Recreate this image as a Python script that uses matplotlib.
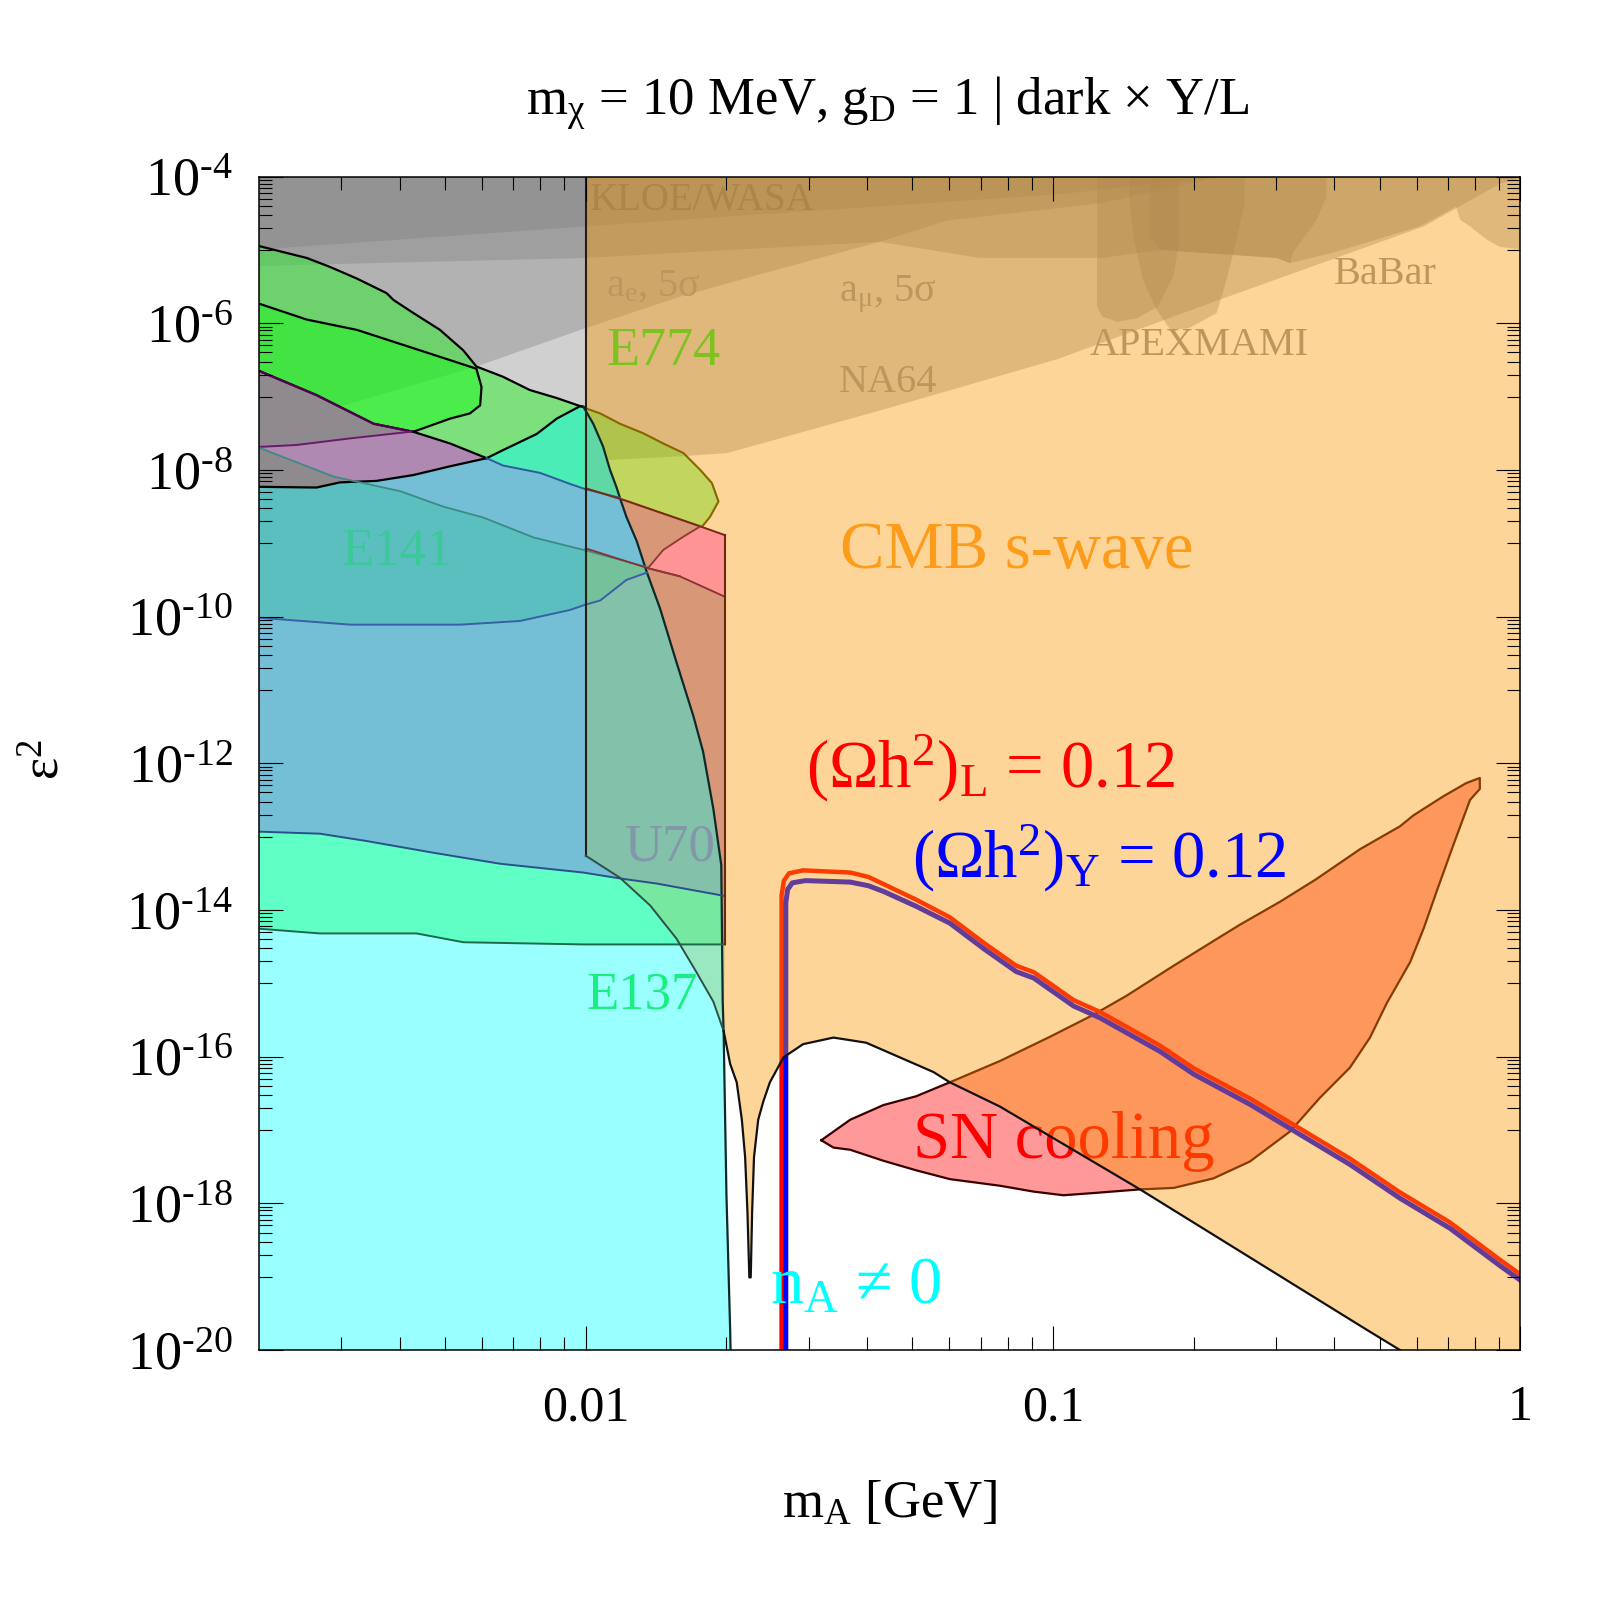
import numpy as np
import matplotlib.pyplot as plt
from matplotlib.ticker import FixedLocator, FuncFormatter, NullFormatter

plt.rcParams['font.family'] = ['Liberation Serif', 'DejaVu Serif']
plt.rcParams['mathtext.fontset'] = 'custom'
plt.rcParams['mathtext.rm'] = 'Liberation Serif'
plt.rcParams['mathtext.it'] = 'Liberation Serif:italic'
plt.rcParams['mathtext.bf'] = 'Liberation Serif:bold'

# all curves: log10(m_A / GeV), log10(eps^2)

# gray constraint bands (lower edges, closed to the top of the frame)
kloe_lx = [-2.71, -2.00, -1.683, -0.985, -0.642]
kloe_ly = [-5.00, -4.68, -4.54, -4.24, -4.00]
amu_lx = [-2.71, -2.00, -1.371, -1.157, -0.893, -0.771, -0.522, -0.493, -0.402,
          -0.216, -0.138, -0.129, -0.108, -0.072, -0.044, 0.01]
amu_ly = [-5.22, -5.11, -4.89, -5.11, -5.11, -5.00, -5.11, -5.18, -5.04,
          -4.68, -4.41, -4.59, -4.68, -4.86, -4.96, -5.00]
ae_lx = [-2.71, -2.234, -2.002, -1.799, -1.62, -1.371, -1.227, -0.893, -0.642]
ae_ly = [-7.48, -6.59, -6.07, -5.64, -5.32, -4.89, -4.60, -4.36, -4.00]
na64_lx = [-2.71, -2.212, -2.0, -1.786, -1.697, -1.354, -0.991, -0.644, -0.207, -0.044, 0.01]
na64_ly = [-8.27, -7.88, -7.88, -7.81, -7.77, -7.16, -6.49, -5.68, -4.68, -4.10, -4.0]
mami_lx = [-0.793, -0.793, -0.771, -0.522, -0.493, -0.487, -0.437, -0.415, -0.415]
mami_ly = [-3.9, -4.82, -5.00, -5.11, -5.18, -5.04, -4.60, -4.28, -3.9]
apex_lx = [-0.906, -0.906, -0.895, -0.862, -0.819, -0.775, -0.742, -0.731, -0.731]
apex_ly = [-3.9, -5.77, -5.91, -5.98, -5.93, -5.77, -5.35, -4.93, -3.9]
apex2_lx = [-0.838, -0.836, -0.828, -0.808, -0.778, -0.749, -0.710, -0.650, -0.629, -0.614, -0.590, -0.590]
apex2_ly = [-3.9, -4.36, -4.82, -5.41, -5.82, -6.09, -6.07, -5.86, -5.41, -5.04, -4.36, -3.9]

# green regions at small mass
l1_lx = [-2.71, -2.597, -2.548, -2.490, -2.426, -2.412, -2.369, -2.312, -2.262, -2.234,
         -2.177, -2.120, -2.062, -2.012, -2.005]
l1_ly = [-4.93, -5.11, -5.23, -5.39, -5.59, -5.68, -5.86, -6.09, -6.37, -6.59,
         -6.73, -6.91, -7.02, -7.13, -7.14]
lobe_lx = [-2.71, -2.597, -2.490, -2.369, -2.234, -2.223, -2.226, -2.248, -2.290, -2.369,
           -2.454, -2.576, -2.71]
lobe_ly = [-5.71, -5.95, -6.09, -6.34, -6.62, -6.87, -7.12, -7.23, -7.30, -7.48,
           -7.37, -6.98, -6.62]
mint_top_lx = [-2.212, -2.177, -2.105, -2.062, -2.012, -2.005]
mint_top_ly = [-7.84, -7.73, -7.51, -7.30, -7.13, -7.14]
low_lx = [-2.212, -2.290, -2.369]
low_ly = [-7.84, -7.64, -7.48]
up_lx = [-2.71, -2.576, -2.454, -2.369]
up_ly = [-6.62, -6.98, -7.37, -7.48]
lp_lx = [-2.71, -2.619, -2.504, -2.376, -2.369]
lp_ly = [-7.69, -7.66, -7.57, -7.48, -7.48]
e774_lx = [-2.0, -1.969, -1.927, -1.877, -1.834, -1.791, -1.755, -1.730, -1.716, -1.734,
           -1.752, -1.755, -1.919, -2.0]
e774_ly = [-7.16, -7.23, -7.37, -7.50, -7.64, -7.77, -8.00, -8.18, -8.43, -8.64,
           -8.78, -8.77, -8.41, -8.25]

# beam dump family
blk_lx = [-2.71, -2.576, -2.526, -2.448, -2.369, -2.290, -2.212]
blk_ly = [-8.23, -8.24, -8.17, -8.15, -8.07, -7.95, -7.84]
bl_lx = [-2.212, -2.177, -2.098, -2.034, -2.002, -1.927]
bl_ly = [-7.84, -7.94, -8.04, -8.19, -8.26, -8.38]
redtop_lx = [-2.0, -1.919, -1.755, -1.702]
redtop_ly = [-8.25, -8.41, -8.77, -8.89]
steep_lx = [-2.005, -1.984, -1.963, -1.948, -1.934, -1.927, -1.913, -1.891, -1.869, -1.841,
            -1.806, -1.770, -1.749, -1.727, -1.710, -1.707, -1.705, -1.699, -1.691, -1.690]
steep_ly = [-7.14, -7.37, -7.68, -8.00, -8.24, -8.38, -8.64, -8.97, -9.40, -9.89,
            -10.62, -11.35, -11.84, -12.62, -13.39, -15.24, -15.65, -17.87, -19.73, -20.05]
wb_lx = [-2.71, -2.569, -2.469, -2.326, -2.183, -2.005, -1.927, -1.848, -1.702]
wb_ly = [-12.93, -12.96, -13.06, -13.22, -13.37, -13.49, -13.57, -13.64, -13.81]
e137_lx = [-2.71, -2.569, -2.362, -2.262, -2.005, -1.702]
e137_ly = [-14.25, -14.32, -14.32, -14.44, -14.47, -14.47]
tl_lx = [-2.71, -2.540, -2.397, -2.305, -2.219, -2.112, -2.005, -1.866]
tl_ly = [-7.67, -8.09, -8.29, -8.50, -8.65, -8.92, -9.09, -9.33]
e10_lx = [-2.71, -2.503, -2.269, -2.141, -2.034, -2.002, -1.969, -1.913, -1.869]
e10_ly = [-10.01, -10.11, -10.11, -10.06, -9.91, -9.84, -9.78, -9.50, -9.40]
ut_lx = [-2.0, -1.867, -1.799, -1.702]
ut_ly = [-9.07, -9.34, -9.45, -9.73]
diag_lx = [-2.0, -1.927, -1.862, -1.806, -1.763, -1.727, -1.705]
diag_ly = [-13.26, -13.56, -13.94, -14.39, -14.85, -15.25, -15.65]
pink_lx = [-1.755, -1.702, -1.702, -1.799, -1.867, -1.834, -1.791]
pink_ly = [-8.77, -8.89, -9.73, -9.45, -9.34, -9.09, -8.91]
tri_lx = [-2.71, -2.540, -2.489, -2.526, -2.576, -2.71]
tri_ly = [-7.67, -8.09, -8.16, -8.17, -8.24, -8.23]

# CMB boundary (thermal relic curve)
rc_lx = [-1.705, -1.691, -1.677, -1.666, -1.659, -1.654, -1.650, -1.647, -1.644, -1.640,
         -1.631, -1.620, -1.606, -1.577, -1.535, -1.470, -1.400, -1.328, -1.256, -1.221,
         -1.114, -0.814, -0.330, -0.258]
rc_ly = [-15.65, -16.10, -16.35, -16.86, -17.37, -18.12, -19.01, -19.01, -18.12, -17.37,
         -16.86, -16.61, -16.35, -16.01, -15.83, -15.74, -15.81, -16.01, -16.21, -16.35,
         -16.68, -17.81, -19.72, -20.0]

# SN cooling
sn_lx = [-1.496, -1.434, -1.363, -1.293, -1.221, -1.114, -1.007, -0.914, -0.843, -0.742,
         -0.651, -0.600, -0.515, -0.437, -0.343, -0.258, -0.229, -0.165, -0.116, -0.087,
         -0.087, -0.108, -0.144, -0.179, -0.207, -0.236, -0.286, -0.322, -0.365, -0.429,
         -0.493, -0.579, -0.657, -0.742, -0.814, -0.914, -0.978, -1.042, -1.114, -1.221,
         -1.293, -1.363, -1.434, -1.470]
sn_ly = [-17.14, -16.86, -16.66, -16.54, -16.35, -16.06, -15.73, -15.43, -15.17, -14.76,
         -14.40, -14.20, -13.89, -13.58, -13.17, -12.86, -12.71, -12.45, -12.27, -12.20,
         -12.35, -12.50, -13.12, -13.74, -14.25, -14.71, -15.27, -15.74, -16.15, -16.56,
         -17.02, -17.43, -17.66, -17.79, -17.81, -17.86, -17.89, -17.84, -17.76, -17.67,
         -17.55, -17.42, -17.27, -17.24]

# (Omega h^2) = 0.12 contours
relic_lx = [-1.434, -1.395, -1.362, -1.293, -1.221, -1.148, -1.079, -1.041, -0.956, -0.900,
            -0.771, -0.699, -0.579, -0.472, -0.365, -0.258, -0.151, -0.044, 0.0]
lep_lx = [-1.581, -1.581, -1.576, -1.565, -1.535] + relic_lx
lep_ly = [-20.0, -13.80, -13.60, -13.50, -13.46, -13.49, -13.55, -13.65, -13.86, -14.10,
          -14.45, -14.76, -14.85, -15.23, -15.39, -15.85, -16.16, -16.57, -16.98, -17.39,
          -17.85, -18.26, -18.77, -18.97]
hyp_lx = [-1.572, -1.572, -1.568, -1.558, -1.530] + relic_lx
hyp_ly = [-20.0, -13.90, -13.72, -13.63, -13.60, -13.62, -13.67, -13.75, -13.95, -14.18,
          -14.53, -14.84, -14.93, -15.31, -15.47, -15.93, -16.24, -16.65, -17.06, -17.47,
          -17.93, -18.34, -18.85, -19.05]

fig = plt.figure(figsize=(16, 16), dpi=100)
ax = fig.add_axes([0.162, 0.15625, 0.7883, 0.7334])
ax.set_xscale('log')
ax.set_yscale('log')


def P(lx, ly):
    return 10.0 ** np.asarray(lx, float), 10.0 ** np.asarray(ly, float)


def fill(lx, ly, color, z, alpha=1.0, edge=True):
    x, y = P(lx, ly)
    if edge and alpha == 1.0:
        ax.fill(x, y, facecolor=color, edgecolor=color, lw=0.6, zorder=z)
    else:
        ax.fill(x, y, facecolor=color, alpha=alpha, lw=0, zorder=z)


def line(lx, ly, color, z=7, lw=1.6, alpha=1.0):
    x, y = P(lx, ly)
    ax.plot(x, y, color=color, lw=lw, zorder=z, alpha=alpha, solid_joinstyle='round')


def band(lx, ly):
    return lx + [lx[-1], lx[0]], ly + [-3.9, -3.9]


# gray bands
for blx, bly in [(kloe_lx, kloe_ly), (amu_lx, amu_ly), (ae_lx, ae_ly), (na64_lx, na64_ly)]:
    bx, by = band(blx, bly)
    fill(bx, by, '#808080', 1, alpha=0.37)
for blx, bly in [(mami_lx, mami_ly), (apex_lx, apex_ly), (apex2_lx, apex2_ly)]:
    fill(blx, bly, '#808080', 1, alpha=0.37)

# green regions
gout_lx = np.r_[l1_lx, mint_top_lx[::-1][1:], low_lx[1:], up_lx[::-1][1:]]
gout_ly = np.r_[l1_ly, mint_top_ly[::-1][1:], low_ly[1:], up_ly[::-1][1:]]
fill(gout_lx, gout_ly, '#2cf02c', 2, alpha=0.5)
fill(lobe_lx, lobe_ly, '#00ff00', 2.1, alpha=0.4)
fill(e774_lx, e774_ly, '#00ff00', 2.2, alpha=0.38)
line(e774_lx + e774_lx[:1], e774_ly + e774_ly[:1], '#3c4600', z=2.3, lw=1.5)

# SN, relic lines (below CMB tint)
fill(sn_lx, sn_ly, '#ff9999', 3)
line(sn_lx + sn_lx[:1], sn_ly + sn_ly[:1], '#3a0000', z=3.1, lw=1.6)
line(lep_lx, lep_ly, '#ff0000', z=3.2, lw=3.2)
line(hyp_lx, hyp_ly, '#0000ff', z=3.3, lw=3.6)

tan = '#949898'
ax.text(10**-1.991, 10**-4.45, 'KLOE/WASA', fontsize=28, color='#7a7a7a', zorder=3.4)
ax.text(10**-1.956, 10**-5.63, r'a$_\mathrm{e}$, 5σ', fontsize=29, color=tan, zorder=3.4)
ax.text(10**-1.459, 10**-5.70, r'a$_\mathrm{μ}$, 5σ', fontsize=29, color=tan, zorder=3.4)
ax.text(10**-1.459, 10**-6.94, 'NA64', fontsize=29, color=tan, zorder=3.4)
ax.text(10**-0.921, 10**-6.43, 'APEXMAMI', fontsize=29, color=tan, zorder=3.4)
ax.text(10**-0.400, 10**-5.46, 'BaBar', fontsize=29, color=tan, zorder=3.4)
ax.text(10**-1.299, 10**-17.38, 'SN cooling', fontsize=48, color='#ff0000', zorder=3.4)

# CMB s-wave tint
or_lx = np.r_[[-2.0, 0.01, 0.01], rc_lx[::-1], diag_lx[-2::-1]]
or_ly = np.r_[[-3.9, -3.9, -20.05], rc_ly[::-1], diag_ly[-2::-1]]
fill(or_lx, or_ly, '#fa9600', 4, alpha=0.4)

# opaque beam dump layers
n_lx = np.r_[[-2.71], blk_lx, mint_top_lx[1:], steep_lx[1:], [-2.71]]
n_ly = np.r_[[-20.05], blk_ly, mint_top_ly[1:], steep_ly[1:], [-20.05]]
fill(n_lx, n_ly, '#99ffff', 5)
b_lx = np.r_[blk_lx, bl_lx[1:], redtop_lx[1:], [-1.702], wb_lx[::-1]]
b_ly = np.r_[blk_ly, bl_ly[1:], redtop_ly[1:], [-13.81], wb_ly[::-1]]
fill(b_lx, b_ly, '#74bfd6', 5.1)
fill(np.r_[wb_lx, [-1.702], e137_lx[::-1]], np.r_[wb_ly, [-14.47], e137_ly[::-1]], '#5fffc6', 5.2)
fill(np.r_[tl_lx, e10_lx[::-1]], np.r_[tl_ly, e10_ly[::-1]], '#5bbfc0', 5.3)
fill(np.r_[mint_top_lx, steep_lx[1:6], bl_lx[::-1][1:]],
     np.r_[mint_top_ly, steep_ly[1:6], bl_ly[::-1][1:]], '#4aedb5', 5.4)
fill(np.r_[[-2.0], steep_lx[1:6], [-2.0]], np.r_[[-7.19], steep_ly[1:6], [-8.26]], '#5fd8a6', 5.45)
fill(np.r_[lp_lx, low_lx[::-1][1:], blk_lx[::-1][1:]],
     np.r_[lp_ly, low_ly[::-1][1:], blk_ly[::-1][1:]], '#b089b3', 5.5)
fill(np.r_[up_lx, lp_lx[::-1]], np.r_[up_ly, lp_ly[::-1]], '#8e8a8e', 5.6)
fill(tri_lx, tri_ly, '#8e8a8e', 5.6)

# U70 and the pink band
fill(np.r_[ut_lx, [-1.702], diag_lx[::-1]], np.r_[ut_ly, [-14.47], diag_ly[::-1]],
     '#9cc668', 6, alpha=0.4)
fill(np.r_[[-1.927], redtop_lx[1:], [-1.702, -1.708], steep_lx[14:5:-1]],
     np.r_[[-8.38], redtop_ly[1:], [-14.47, -14.47], steep_ly[14:5:-1]], '#d89776', 6.1)
fill(pink_lx, pink_ly, '#ff9494', 6.2)

# outlines
line(l1_lx, l1_ly, '#000000')
line(lobe_lx, lobe_ly, '#000000')
line(up_lx, up_ly, '#550055')
line(lp_lx, lp_ly, '#6a1a6a', lw=1.4)
line(low_lx, low_ly, '#000000')
line(blk_lx, blk_ly, '#000000')
line(mint_top_lx, mint_top_ly, '#000000')
line(steep_lx, steep_ly, '#0c2a2a')
line(bl_lx, bl_ly, '#2f5aa0', lw=1.4)
line(redtop_lx, redtop_ly, '#7a2a10', lw=1.4)
line(tl_lx, tl_ly, '#3e8a86', lw=1.3)
line(e10_lx, e10_ly, '#3a5fa8', lw=1.4)
line(wb_lx, wb_ly, '#28508a', lw=1.4)
line(e137_lx, e137_ly, '#1b6b4b', lw=1.4)
line(ut_lx, ut_ly, '#8a3030', lw=1.3)
line(pink_lx[3:] + pink_lx[:1], pink_ly[3:] + pink_ly[:1], '#8a3a30', lw=1.3)
line([-1.702, -1.702], [-8.89, -14.47], '#6a2810', lw=1.5)
line([-2.0, -2.0], [-3.9, -13.26], '#2b1d0e', lw=1.5)
line(diag_lx, diag_ly, '#2d5048', lw=1.4)
line(rc_lx, rc_ly, '#111111', lw=1.6)

# labels on top
ax.text(10**-1.956, 10**-6.57, 'E774', fontsize=39, color='#7dc31f', zorder=8)
ax.text(10**-1.456, 10**-9.34, 'CMB s-wave', fontsize=48, color='#fd9b1b', zorder=8)
ax.text(10**-2.522, 10**-9.29, 'E141', fontsize=38, color='#3cc89a', zorder=8)
ax.text(10**-1.917, 10**-13.32, 'U70', fontsize=38, color='#8297a7', zorder=8)
ax.text(10**-1.998, 10**-15.34, 'E137', fontsize=38, color='#1aee80', zorder=8)
ax.text(10**-1.528, 10**-12.33, r'(Ωh$^\mathrm{2}$)$_\mathrm{L}$ = 0.12', fontsize=48,
        color='#ff0000', zorder=8)
ax.text(10**-1.303, 10**-13.56, r'(Ωh$^\mathrm{2}$)$_\mathrm{Y}$ = 0.12', fontsize=48,
        color='#0000ff', zorder=8)
ax.text(10**-1.605, 10**-19.37, r'n$_\mathrm{A}$ ≠ 0', fontsize=48, color='#00ffff', zorder=8)

# axes
ax.set_xlim(10**-2.6987, 1)
ax.set_ylim(1e-20, 1e-4)
ax.xaxis.set_major_locator(FixedLocator([0.01, 0.1, 1]))
ax.xaxis.set_major_formatter(FuncFormatter(lambda v, p: {0.01: '0.01', 0.1: '0.1', 1.0: '1'}.get(round(v, 4), '')))
ax.xaxis.set_minor_locator(FixedLocator([k * 10.0 ** e for e in (-3, -2, -1) for k in range(2, 10)]))
ax.xaxis.set_minor_formatter(NullFormatter())
ax.yaxis.set_major_locator(FixedLocator([10.0 ** e for e in range(-20, -3, 2)]))
ax.yaxis.set_major_formatter(FuncFormatter(lambda v, p: r'10$^{\text{-}%d}$' % round(-np.log10(v))))
ax.yaxis.set_minor_locator(FixedLocator([k * 10.0 ** e for e in range(-19, -4, 2) for k in range(1, 10)]))
ax.yaxis.set_minor_formatter(NullFormatter())
ax.tick_params(which='both', direction='in', top=True, right=True, width=0.8, color='black')
ax.tick_params(which='major', length=17)
ax.tick_params(which='minor', length=9.5)
ax.tick_params(axis='x', which='major', pad=25, labelsize=36)
ax.tick_params(axis='y', which='major', pad=19, labelsize=39)
for s in ax.spines.values():
    s.set_linewidth(1.1)
    s.set_zorder(20)
ax.xaxis.set_zorder(20)
ax.yaxis.set_zorder(20)

fig.text(0.5547, 0.928, r'm$_\mathrm{χ}$ = 10 MeV, g$_\mathrm{D}$ = 1 | dark × Y/L',
         fontsize=38, ha='center', va='baseline')
fig.text(0.556, 0.0513, r'm$_\mathrm{A}$ [GeV]', fontsize=38, ha='center', va='baseline')
fig.text(0.029, 0.525, r'ε$^\mathrm{2}$', fontsize=38, rotation=90, ha='center', va='center')

fig.savefig('out.png', dpi=100)
